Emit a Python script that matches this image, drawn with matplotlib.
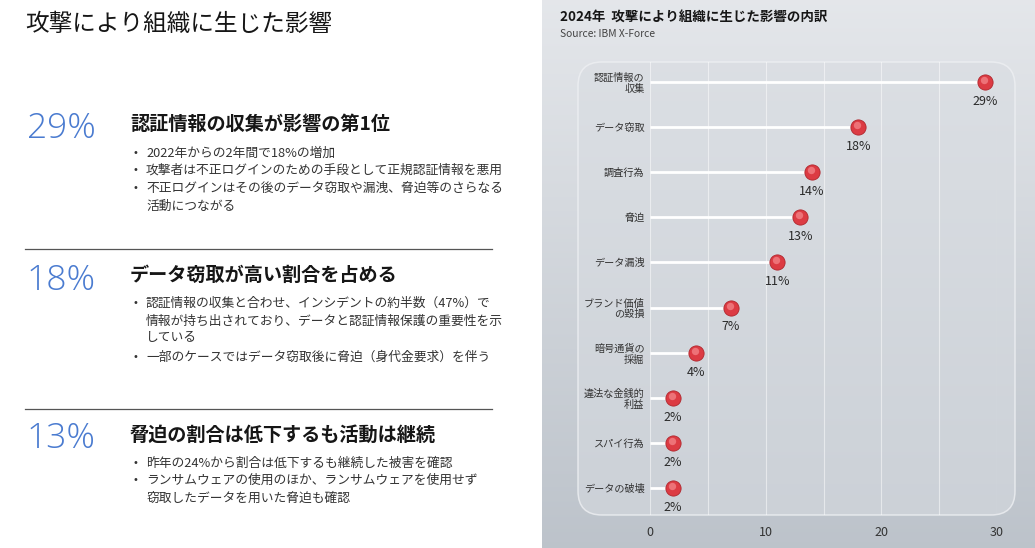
import numpy as np
import matplotlib
matplotlib.use('Agg')
import matplotlib.pyplot as plt
from matplotlib.patches import FancyBboxPatch
from matplotlib.transforms import offset_copy

plt.rcParams['font.family'] = ['Noto Sans CJK JP', 'DejaVu Sans']

# chart data
categories = ['認証情報の\n収集', 'データ窃取', '調査行為', '脅迫', 'データ漏洩',
              'ブランド価値\nの毀損', '暗号通貨の\n採掘', '違法な金銭的\n利益', 'スパイ行為', 'データの破壊']
values = [29, 18, 14, 13, 11, 7, 4, 2, 2, 2]
xticks = [0, 5, 10, 15, 20, 25, 30]
xticklabels = ['0', '', '10', '', '20', '', '30']

# left side text
page_title = '攻撃により組織に生じた影響'
big_numbers = ['29%', '18%', '13%']
headings = ['認証情報の収集が影響の第1位',
            'データ窃取が高い割合を占める',
            '脅迫の割合は低下するも活動は継続']
bullets = [
    [('2022年からの2年間で18%の増加', True),
     ('攻撃者は不正ログインのための手段として正規認証情報を悪用', True),
     ('不正ログインはその後のデータ窃取や漏洩、脅迫等のさらなる', True),
     ('活動につながる', False)],
    [('認証情報の収集と合わせ、インシデントの約半数（47%）で', True),
     ('情報が持ち出されており、データと認証情報保護の重要性を示', False),
     ('している', False),
     ('一部のケースではデータ窃取後に脅迫（身代金要求）を伴う', True)],
    [('昨年の24%から割合は低下するも継続した被害を確認', True),
     ('ランサムウェアの使用のほか、ランサムウェアを使用せず', True),
     ('窃取したデータを用いた脅迫も確認', False)],
]

W, H = 1035, 548
fig = plt.figure(figsize=(W / 100, H / 100), dpi=100)
fig.patch.set_facecolor('white')

def px(x, y):
    return x / W, 1 - y / H

# ---- right panel background
bg = fig.add_axes([542 / W, 0, (W - 542) / W, 1])
bg.set_xlim(542, W)
bg.set_ylim(H, 0)
bg.set_axis_off()
top = np.array([0.895, 0.905, 0.920])
bot = np.array([0.740, 0.765, 0.795])
t = np.linspace(0, 1, 200)[:, None, None]
grad = np.repeat(top * (1 - t) + bot * t, 2, axis=1)
bg.imshow(grad, extent=(542, W, H, 0), aspect='auto', zorder=0)

box = FancyBboxPatch((578, 62), 437, 453, boxstyle='round,pad=0,rounding_size=24',
                     facecolor='none', edgecolor='#eef0f3', lw=1.1, alpha=0.8, zorder=2)
bg.add_patch(box)
itop = np.array([0.860, 0.874, 0.893])
ibot = np.array([0.800, 0.820, 0.845])
igrad = np.repeat(itop * (1 - t) + ibot * t, 2, axis=1)
im = bg.imshow(igrad, extent=(578, 1015, 515, 62), aspect='auto', zorder=1)
im.set_clip_path(box)

fig.text(*px(560, 17), '2024年  攻撃により組織に生じた影響の内訳', fontsize=9.7,
         fontweight='bold', color='#161616', va='center', ha='left')
fig.text(*px(560, 34), 'Source: IBM X-Force', fontsize=7.4, color='#444444',
         va='center', ha='left')

# ---- lollipop chart
ax = fig.add_axes([650 / W, 1 - 515 / H, (997 - 650) / W, (515 - 62) / H])
ax.patch.set_alpha(0)
rows = np.arange(len(values))
ax.set_xlim(0, 30)
ax.set_ylim(9 + 27 / 45.11, -20 / 45.11)
for s in ax.spines.values():
    s.set_visible(False)
for gx in xticks:
    ax.axvline(gx, color='white', lw=0.8, alpha=0.5, zorder=0)

ax.hlines(rows, 0, values, color='white', lw=2, zorder=2)
ax.scatter(values, rows, s=120, c='#dc3b43', edgecolors='#b0262d', linewidths=0.6,
           zorder=3, clip_on=False)
hl = offset_copy(ax.transData, fig=fig, x=-1, y=2, units='dots')
ax.scatter(values, rows, s=28, c='#f58a8e', alpha=0.7, lw=0, zorder=4,
           transform=hl, clip_on=False)
for v, r in zip(values, rows):
    ax.annotate(f'{v}%', (v, r), xytext=(0, -14), textcoords='offset points',
                ha='center', va='center', fontsize=9, color='#2a2a2a',
                annotation_clip=False)

ax.set_yticks(rows)
ax.set_yticklabels(categories, fontsize=7.3, color='#333333', linespacing=1.1)
ax.set_xticks(xticks)
ax.set_xticklabels(xticklabels, fontsize=9, color='#333333')
ax.tick_params(axis='both', length=0)
ax.tick_params(axis='y', pad=4)
ax.tick_params(axis='x', pad=8)

# ---- left side
fig.text(*px(25, 24), page_title, fontsize=17, color='#161616', va='center', ha='left')

num_y = [129, 281, 439]
head_y = [124, 275, 435]
line_y = [[153, 170, 188, 206], [303, 321, 338, 357], [463, 480, 498]]
for i in range(3):
    fig.text(*px(27, num_y[i]), big_numbers[i], fontsize=25.5, fontweight='light',
             family=['Open Sans', 'DejaVu Sans'],
             color='#4a7bd0', va='center', ha='left')
    fig.text(*px(130, head_y[i]), headings[i], fontsize=13.8, fontweight='bold',
             color='#161616', va='center', ha='left')
    for (txt, dot), ly in zip(bullets[i], line_y[i]):
        if dot:
            fig.text(*px(133, ly), '•', fontsize=7, color='#333333',
                     va='center', ha='left', family='DejaVu Sans')
        fig.text(*px(146, ly), txt, fontsize=9.2, color='#333333', va='center', ha='left')

for sy in [249, 409]:
    fig.add_artist(plt.Line2D([25 / W, 492 / W], [1 - sy / H, 1 - sy / H],
                              color='#555555', lw=0.9, transform=fig.transFigure))

fig.savefig('out.png', dpi=100)
